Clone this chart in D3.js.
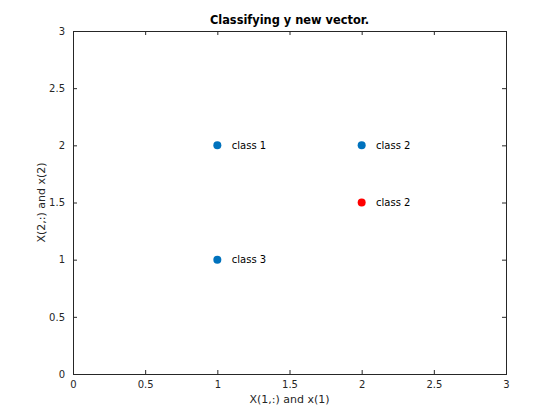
<!DOCTYPE html>
<html><head><meta charset="utf-8">
<script src="https://cdn.jsdelivr.net/npm/d3@7"></script>
<style>body{margin:0;background:#fff;} text{font-family:"DejaVu Sans",sans-serif;}</style>
</head><body>
<svg id="c" width="560" height="420"></svg>
<script>
const trainX = [1, 2, 1];
const trainY = [2, 2, 1];
const trainLabels = ["class 1", "class 2", "class 3"];
const newX = [2];
const newY = [1.5];
const newLabels = ["class 2"];
const xTicks = [0, 0.5, 1, 1.5, 2, 2.5, 3];
const yTicks = [0, 0.5, 1, 1.5, 2, 2.5, 3];

const svg = d3.select("#c");
const L = 73, R = 506, T = 31, B = 374;
const x = d3.scaleLinear().domain([0, 3]).range([L, R]);
const y = d3.scaleLinear().domain([0, 3]).range([B, T]);
const fmt = d => String(d);

svg.append("rect").attr("x", 0).attr("y", 0).attr("width", 560).attr("height", 420).attr("fill", "#fff");

function styleAxis(g) {
  g.select(".domain").remove();
  g.selectAll("line").attr("stroke", "#262626");
  g.selectAll("text").attr("fill", "#262626").style("font-size", "10px");
}
svg.append("g").attr("transform", `translate(0,${B})`)
  .call(d3.axisBottom(x).tickValues(xTicks).tickFormat(fmt).tickSizeInner(-4).tickSizeOuter(0).tickPadding(7))
  .call(styleAxis);
svg.append("g").attr("transform", `translate(0,${T})`)
  .call(d3.axisTop(x).tickValues(xTicks).tickFormat("").tickSizeInner(-4).tickSizeOuter(0))
  .call(styleAxis);
svg.append("g").attr("transform", `translate(${L},0)`)
  .call(d3.axisLeft(y).tickValues(yTicks).tickFormat(fmt).tickSizeInner(-4).tickSizeOuter(0).tickPadding(8))
  .call(styleAxis);
svg.append("g").attr("transform", `translate(${R},0)`)
  .call(d3.axisRight(y).tickValues(yTicks).tickFormat("").tickSizeInner(-4).tickSizeOuter(0))
  .call(styleAxis);

svg.append("rect").attr("x", L + 0.5).attr("y", T + 0.5).attr("width", R - L).attr("height", B - T)
  .attr("fill", "none").attr("stroke", "#262626").attr("stroke-width", 1);

const train = trainX.map((v, i) => ({x: v, y: trainY[i], l: trainLabels[i]}));
const nw = newX.map((v, i) => ({x: v, y: newY[i], l: newLabels[i]}));

svg.selectAll("circle.t").data(train).enter().append("circle")
  .attr("cx", d => x(d.x)).attr("cy", d => y(d.y)).attr("r", 4).attr("fill", "#0072BD");
svg.selectAll("circle.n").data(nw).enter().append("circle")
  .attr("cx", d => x(d.x)).attr("cy", d => y(d.y)).attr("r", 4).attr("fill", "#FF0000");

svg.selectAll("text.lab").data(train.concat(nw)).enter().append("text")
  .attr("x", d => x(d.x + 0.1)).attr("y", d => y(d.y)).attr("dy", "0.35em")
  .style("font-size", "10px").attr("fill", "#000").text(d => d.l);

svg.append("text").attr("x", (L + R) / 2).attr("y", 24).attr("text-anchor", "middle")
  .style("font-size", "11.4px").style("font-weight", "bold").attr("fill", "#000").text("Classifying y new vector.");
svg.append("text").attr("x", (L + R) / 2).attr("y", 403).attr("text-anchor", "middle")
  .style("font-size", "11px").attr("fill", "#262626").text("X(1,:) and x(1)");
svg.append("text").attr("transform", `translate(45,${(T + B) / 2}) rotate(-90)`).attr("text-anchor", "middle")
  .style("font-size", "11px").attr("fill", "#262626").text("X(2,:) and x(2)");
</script>
</body></html>
